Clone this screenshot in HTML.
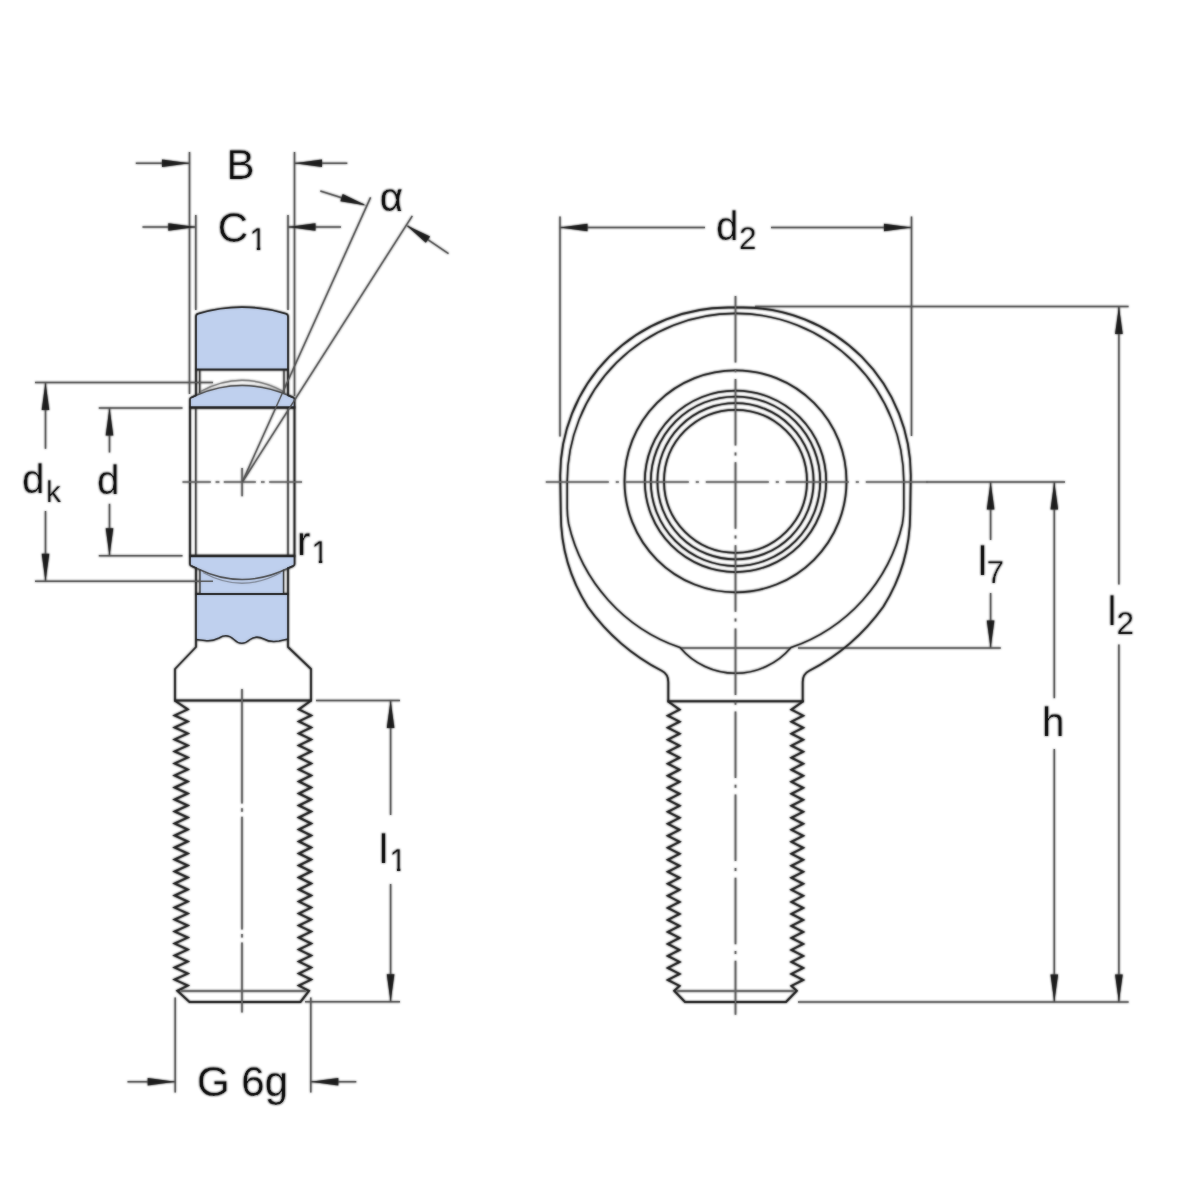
<!DOCTYPE html>
<html lang="en">
<head>
<meta charset="utf-8">
<title>Rod end with male thread - dimension drawing</title>
<style>
html,body{margin:0;padding:0;background:#fff;}
body{width:1200px;height:1200px;overflow:hidden;}
svg{display:block;}
.t{font-family:"Liberation Sans",sans-serif;fill:#0a0a0a;stroke:#fff;stroke-width:0.25px;}
.dim{stroke:#4d4d4d;stroke-width:1.5;fill:none;}
.cen{stroke:#5c5c5c;stroke-width:1.7;fill:none;}
.out{stroke:#1c1c1c;stroke-width:1.9;fill:none;}
.outn{stroke:#1c1c1c;stroke-width:1.8;fill:none;stroke-linejoin:round;}
.wav{stroke:#1c1c1c;stroke-width:1.5;fill:none;stroke-linejoin:round;}
.heavy{stroke:#1c1c1c;stroke-width:2.6;fill:none;}
.thin{stroke:#2e2e2e;stroke-width:1.4;fill:none;}
.thn2{stroke:#1c1c1c;stroke-width:1.55;fill:none;}
.circ{stroke:#1c1c1c;stroke-width:1.75;fill:none;}
.thr{stroke:#1c1c1c;stroke-width:2;fill:none;stroke-linejoin:miter;}
.thin2{stroke:#666;stroke-width:1.8;fill:none;}
.fill{fill:#bfd0ee;stroke:none;}
.arc{stroke:#777;stroke-width:1.4;fill:none;}
.arcd{stroke:#444;stroke-width:1.5;fill:none;stroke-linejoin:round;}
.arc2{stroke:#7d8594;stroke-width:1.4;fill:none;}
.ah{fill:#1c1c1c;stroke:none;}
</style>
</head>
<body>
<svg width="1200" height="1200" viewBox="0 0 1200 1200">
<defs><filter id="soft" x="0" y="0" width="1200" height="1200" filterUnits="userSpaceOnUse" color-interpolation-filters="sRGB"><feGaussianBlur stdDeviation="0.8"/></filter></defs>
<rect width="1200" height="1200" fill="#ffffff"/>
<use href="#art" filter="url(#soft)"/>
<g opacity="0.7">
<g id="art">
<!-- left view: fills -->
<path class="fill" d="M196,369.5 L196,316.5 Q196,314.2 198.5,313.6 Q242,300.6 285.5,313.6 Q288,314.2 288,316.5 L288,369.5 Z"/>
<rect class="fill" x="200" y="564" width="83.5" height="31"/>
<path class="fill" d="M196,594 L288,594 L288,639 L279,641 Q270,642.5 264,639 Q256,635 250,639.5 Q241.5,647 234,639.5 Q227,633 219,638 Q212,641.5 205,640.5 L196,639.5 Z"/>
<path class="fill" d="M190,407.5 L190,399.5 Q190,398 191.5,397.5 L197,395 Q242,376 287.5,395 L293,397.5 Q294.5,398 294.5,399.5 L294.5,407.5 Z"/>
<path class="fill" d="M190,556 L190,564 Q190,565.5 191.5,566 L197,568.5 Q242,590.5 287.5,568.5 L293,566 Q294.5,565.5 294.5,564 L294.5,556 Z"/>
<!-- left view: thin lines -->
<path class="arc" d="M200.5,391.5 Q242,369 283.5,391.5"/>
<path class="arcd" d="M191.5,397.5 L197,395 Q242,376 287.5,395 L293,397.5"/>
<path class="arcd" d="M191.5,566 L197,568.5 Q242,590.5 287.5,568.5 L293,566"/>
<path class="arc2" d="M203,572.5 Q242,594 281,572.5"/>
<line class="thin" x1="199.7" y1="370" x2="199.7" y2="393"/>
<line class="thin" x1="284" y1="370" x2="284" y2="393"/>
<line class="thin" x1="200" y1="569.5" x2="200" y2="594"/>
<line class="thin" x1="283.5" y1="569.5" x2="283.5" y2="594"/>
<line class="thin" x1="195.8" y1="408" x2="195.8" y2="556"/>
<line class="thin" x1="288" y1="408" x2="288" y2="556"/>
<!-- left view: outlines -->
<path class="outn" d="M196,395.5 L196,316.5 Q196,314.2 198.5,313.6 Q242,300.6 285.5,313.6 Q288,314.2 288,316.5 L288,395.5"/>
<line class="out" x1="195.2" y1="369.5" x2="288.8" y2="369.5"/>
<path class="outn" d="M196.5,395.2 L191,397.7 Q190,398.2 190,399.5 L190,564 Q190,565.3 191,565.8 L196.5,568.3"/>
<path class="outn" d="M287.5,395.2 L293.5,397.7 Q294.5,398.2 294.5,399.5 L294.5,564 Q294.5,565.3 293.5,565.8 L287.5,568.3"/>
<line class="heavy" x1="189.2" y1="407.5" x2="295.3" y2="407.5"/>
<line class="heavy" x1="189.2" y1="556" x2="295.3" y2="556"/>
<path class="outn" d="M196,567.5 L196,647 L175,669 L175,700.5 M288,567.5 L288,647 L311,669 L311,700.5"/>
<line class="out" x1="195.2" y1="594" x2="288.8" y2="594"/>
<path class="wav" d="M196,639.5 L205,640.5 Q212,641.5 219,638 Q227,633 234,639.5 Q241.5,647 250,639.5 Q256,635 264,639 Q270,642.5 279,641 L288,639"/>
<line class="out" x1="174.2" y1="700.5" x2="311.8" y2="700.5"/>
<polyline class="thr" points="174.6,700.5 187.8,709.4 174.6,715.4 187.8,721.4 174.6,727.4 187.8,733.4 174.6,739.4 187.8,745.4 174.6,751.4 187.8,757.4 174.6,763.4 187.8,769.4 174.6,775.4 187.8,781.5 174.6,787.5 187.8,793.5 174.6,799.5 187.8,805.5 174.6,811.5 187.8,817.5 174.6,823.5 187.8,829.5 174.6,835.5 187.8,841.5 174.6,847.5 187.8,853.5 174.6,859.5 187.8,865.5 174.6,871.5 187.8,877.5 174.6,883.5 187.8,889.5 174.6,895.5 187.8,901.6 174.6,907.6 187.8,913.6 174.6,919.6 187.8,925.6 174.6,931.6 187.8,937.6 174.6,943.6 187.8,949.6 174.6,955.6 187.8,961.6 174.6,967.6 187.8,973.6 174.6,979.6 187.8,985.6 177.3,990.8 189.5,1001.9 300.5,1001.9 309.0,990.8 298.8,985.6 311.2,979.6 298.8,973.6 311.2,967.6 298.8,961.6 311.2,955.6 298.8,949.6 311.2,943.6 298.8,937.6 311.2,931.6 298.8,925.6 311.2,919.6 298.8,913.6 311.2,907.6 298.8,901.6 311.2,895.5 298.8,889.5 311.2,883.5 298.8,877.5 311.2,871.5 298.8,865.5 311.2,859.5 298.8,853.5 311.2,847.5 298.8,841.5 311.2,835.5 298.8,829.5 311.2,823.5 298.8,817.5 311.2,811.5 298.8,805.5 311.2,799.5 298.8,793.5 311.2,787.5 298.8,781.5 311.2,775.4 298.8,769.4 311.2,763.4 298.8,757.4 311.2,751.4 298.8,745.4 311.2,739.4 298.8,733.4 311.2,727.4 298.8,721.4 311.2,715.4 298.8,709.4 311.2,700.5"/>
<line class="thin2" x1="180" y1="991" x2="306" y2="991"/>
<!-- left view: centre lines -->
<path class="cen" d="M182.5,482 H210.8 M215.6,482 H219.4 M223.8,482 H255.8 M261,482 H264.6 M269.2,482 H302"/>
<line class="cen" x1="242.1" y1="468" x2="242.1" y2="496.2"/>
<path class="cen" d="M242,689 V803.5 M242,808.3 V811.7 M242,816.7 V929.5 M242,934 V937.5 M242,942.5 V1012.5"/>
<!-- left view: dimensions -->
<line class="dim" x1="189.5" y1="152" x2="189.5" y2="394"/>
<line class="dim" x1="294.5" y1="152" x2="294.5" y2="396"/>
<line class="dim" x1="195.8" y1="215" x2="195.8" y2="310"/>
<line class="dim" x1="288" y1="215" x2="288" y2="310"/>
<line class="dim" x1="135.8" y1="163.2" x2="189.5" y2="163.2"/>
<polygon class="ah" points="189.50,163.20 162.00,167.00 162.00,159.40"/>
<line class="dim" x1="294.5" y1="163.2" x2="347.3" y2="163.2"/>
<polygon class="ah" points="294.50,163.20 322.00,159.40 322.00,167.00"/>
<line class="dim" x1="142.5" y1="227" x2="195.8" y2="227"/>
<polygon class="ah" points="195.80,227.00 168.30,230.80 168.30,223.20"/>
<line class="dim" x1="288" y1="227" x2="341" y2="227"/>
<polygon class="ah" points="288.00,227.00 315.50,223.20 315.50,230.80"/>
<line class="dim" x1="35" y1="382.6" x2="213" y2="382.6"/>
<line class="dim" x1="35" y1="581.3" x2="213" y2="581.3"/>
<line class="dim" x1="45.5" y1="383" x2="45.5" y2="448.8"/>
<line class="dim" x1="45.5" y1="511" x2="45.5" y2="581"/>
<polygon class="ah" points="45.50,382.60 49.30,410.10 41.70,410.10"/>
<polygon class="ah" points="45.50,581.30 41.70,553.80 49.30,553.80"/>
<line class="dim" x1="98.8" y1="408" x2="182.5" y2="408"/>
<line class="dim" x1="98.8" y1="555.8" x2="182.5" y2="555.8"/>
<line class="dim" x1="109.5" y1="408" x2="109.5" y2="452.5"/>
<line class="dim" x1="109.5" y1="503.8" x2="109.5" y2="555.8"/>
<polygon class="ah" points="109.50,408.00 113.30,435.50 105.70,435.50"/>
<polygon class="ah" points="109.50,555.80 105.70,528.30 113.30,528.30"/>
<line class="dim" x1="242.3" y1="482" x2="370.6" y2="197.4"/>
<line class="dim" x1="242.3" y1="482" x2="412.3" y2="215.8"/>
<line class="dim" x1="320.3" y1="191" x2="363.8" y2="204.8"/>
<polygon class="ah" points="366.30,205.60 340.37,201.36 342.67,194.12"/>
<line class="dim" x1="407.5" y1="225.8" x2="448.5" y2="253.7"/>
<polygon class="ah" points="406.30,225.30 430.06,236.52 425.85,242.85"/>
<line class="dim" x1="316" y1="700.6" x2="400" y2="700.6"/>
<line class="dim" x1="305" y1="1001.8" x2="400" y2="1001.8"/>
<line class="dim" x1="390.6" y1="700.6" x2="390.6" y2="815"/>
<line class="dim" x1="390.6" y1="884" x2="390.6" y2="1001.8"/>
<polygon class="ah" points="390.60,700.60 394.40,728.10 386.80,728.10"/>
<polygon class="ah" points="390.60,1001.80 386.80,974.30 394.40,974.30"/>
<line class="dim" x1="175.2" y1="997.5" x2="175.2" y2="1092.5"/>
<line class="dim" x1="310.8" y1="997.5" x2="310.8" y2="1092.5"/>
<line class="dim" x1="127.5" y1="1081.8" x2="175.2" y2="1081.8"/>
<polygon class="ah" points="175.20,1081.80 147.70,1085.60 147.70,1078.00"/>
<line class="dim" x1="310.8" y1="1081.8" x2="356.3" y2="1081.8"/>
<polygon class="ah" points="310.80,1081.80 338.30,1078.00 338.30,1085.60"/>
<!-- right view: dimensions -->
<line class="dim" x1="560" y1="216.5" x2="560" y2="436.5"/>
<line class="dim" x1="911.5" y1="216.5" x2="911.5" y2="436"/>
<line class="dim" x1="560" y1="227.5" x2="705" y2="227.5"/>
<line class="dim" x1="771" y1="227.5" x2="911.5" y2="227.5"/>
<polygon class="ah" points="560.00,227.50 587.50,223.70 587.50,231.30"/>
<polygon class="ah" points="911.50,227.50 884.00,231.30 884.00,223.70"/>
<line class="dim" x1="755" y1="306.6" x2="1128.6" y2="306.6"/>
<line class="dim" x1="926" y1="482" x2="1065" y2="482"/>
<line class="dim" x1="680" y1="648" x2="790.5" y2="648"/>
<line class="dim" x1="798" y1="648" x2="1000.8" y2="648"/>
<line class="dim" x1="798" y1="1002" x2="1128.6" y2="1002"/>
<line class="dim" x1="1118.9" y1="306.6" x2="1118.9" y2="584.4"/>
<line class="dim" x1="1118.9" y1="644.4" x2="1118.9" y2="1002"/>
<polygon class="ah" points="1118.90,306.60 1122.70,334.10 1115.10,334.10"/>
<polygon class="ah" points="1118.90,1002.00 1115.10,974.50 1122.70,974.50"/>
<line class="dim" x1="1054.3" y1="482" x2="1054.3" y2="698.2"/>
<line class="dim" x1="1054.3" y1="749" x2="1054.3" y2="1002"/>
<polygon class="ah" points="1054.30,482.00 1058.10,509.50 1050.50,509.50"/>
<polygon class="ah" points="1054.30,1002.00 1050.50,974.50 1058.10,974.50"/>
<line class="dim" x1="990.6" y1="482" x2="990.6" y2="540"/>
<line class="dim" x1="990.6" y1="593" x2="990.6" y2="648"/>
<polygon class="ah" points="990.60,482.00 994.40,509.50 986.80,509.50"/>
<polygon class="ah" points="990.60,648.00 986.80,620.50 994.40,620.50"/>
<!-- right view: head outline -->
<path class="outn" d="M668.3,701.3 L668.3,682 Q668.3,674.1 661.7,670.8 A210.6,210.6 0 0 1 587.7,606.7 A175.1,175.1 0 0 1 560.8,514 L560.20,475.4 A167.9,167.9 0 0 1 728.1,307.50 L742.90,307.50 A167.9,167.9 0 0 1 910.80,475.4 L910.20,514 A175.1,175.1 0 0 1 883.30,606.7 A210.6,210.6 0 0 1 809.30,670.8 Q802.70,674.1 802.70,682 L802.70,701.3"/>
<path class="thn2" d="M735.5,673.3 A72.6,72.6 0 0 1 680,647.5 A171.3,171.3 0 0 1 568.65,524 Q567.20,516 567.20,508 L567.20,481.6 A168.3,168.3 0 0 1 903.80,481.6 L903.80,508 Q903.80,516 902.35,524 A171.3,171.3 0 0 1 791.00,647.5 A72.6,72.6 0 0 1 735.5,673.3"/>
<circle class="circ" cx="735.5" cy="481.3" r="111"/>
<circle class="circ" cx="735.5" cy="481.3" r="90.7"/>
<circle class="circ" cx="735.5" cy="481.3" r="84.7"/>
<circle class="circ" cx="735.5" cy="481.3" r="78.1"/>
<circle class="circ" cx="735.5" cy="481.3" r="71.5"/>
<line class="out" x1="667.4" y1="701.3" x2="803.9" y2="701.3"/>
<polyline class="thr" points="667.8,701.3 679.6,709.7 667.8,715.7 679.6,721.7 667.8,727.7 679.6,733.7 667.8,739.7 679.6,745.7 667.8,751.7 679.6,757.7 667.8,763.7 679.6,769.7 667.8,775.8 679.6,781.8 667.8,787.8 679.6,793.8 667.8,799.8 679.6,805.8 667.8,811.8 679.6,817.8 667.8,823.8 679.6,829.8 667.8,835.8 679.6,841.8 667.8,847.8 679.6,853.8 667.8,859.8 679.6,865.8 667.8,871.8 679.6,877.8 667.8,883.8 679.6,889.8 667.8,895.8 679.6,901.9 667.8,907.9 679.6,913.9 667.8,919.9 679.6,925.9 667.8,931.9 679.6,937.9 667.8,943.9 679.6,949.9 667.8,955.9 679.6,961.9 667.8,967.9 679.6,973.9 667.8,979.9 679.6,985.9 674.2,990.8 685.0,1002.0 786.0,1002.0 796.8,990.8 791.4,985.9 803.2,979.9 791.4,973.9 803.2,967.9 791.4,961.9 803.2,955.9 791.4,949.9 803.2,943.9 791.4,937.9 803.2,931.9 791.4,925.9 803.2,919.9 791.4,913.9 803.2,907.9 791.4,901.9 803.2,895.8 791.4,889.8 803.2,883.8 791.4,877.8 803.2,871.8 791.4,865.8 803.2,859.8 791.4,853.8 803.2,847.8 791.4,841.8 803.2,835.8 791.4,829.8 803.2,823.8 791.4,817.8 803.2,811.8 791.4,805.8 803.2,799.8 791.4,793.8 803.2,787.8 791.4,781.8 803.2,775.8 791.4,769.7 803.2,763.7 791.4,757.7 803.2,751.7 791.4,745.7 803.2,739.7 791.4,733.7 803.2,727.7 791.4,721.7 803.2,715.7 791.4,709.7 803.2,701.3"/>
<line class="thin2" x1="676.5" y1="991" x2="794.5" y2="991"/>
<!-- right view: centre lines -->
<path class="cen" d="M545.8,482 H928" stroke-dasharray="63 7 3 7"/>
<path class="cen" d="M735.5,296 V1014.7" stroke-dasharray="66.5 6.8 3 6.8"/>
<!-- labels -->
<text class="t" x="226.5" y="178.5" font-size="42">B</text>
<clipPath id="sub1_1"><rect x="214.80" y="199.60" width="34.00" height="58.80"/><path d="M248.80,218.50 H280.70 V245.85 H260.15 V252.00 H256.89 V245.85 H248.80 Z"/></clipPath>
<text class="t" clip-path="url(#sub1_1)"><tspan x="217.8" y="241.6" font-size="42">C</tspan><tspan x="249.2" y="250" font-size="31.5">1</tspan></text>
<text class="t" x="379.8" y="210.6" font-size="40.5">α</text>
<text class="t"><tspan x="22" y="493" font-size="40.5">d</tspan><tspan x="46" y="501.7" font-size="30">k</tspan></text>
<text class="t" x="97" y="493.5" font-size="40.5">d</text>
<clipPath id="sub1_2"><rect x="294.00" y="514.20" width="16.80" height="56.70"/><path d="M310.80,531.50 H342.70 V558.85 H322.15 V565.00 H318.89 V558.85 H310.80 Z"/></clipPath>
<text class="t" clip-path="url(#sub1_2)"><tspan x="297" y="554.7" font-size="40.5">r</tspan><tspan x="311.2" y="563" font-size="31.5">1</tspan></text>
<clipPath id="sub1_3"><rect x="376.00" y="822.50" width="12.90" height="56.70"/><path d="M388.90,839.90 H420.80 V867.25 H400.25 V873.40 H396.99 V867.25 H388.90 Z"/></clipPath>
<text class="t" clip-path="url(#sub1_3)"><tspan x="379" y="863" font-size="40.5">l</tspan><tspan x="389.3" y="871.4" font-size="31.5">1</tspan></text>
<text class="t" x="197" y="1096.4" font-size="42">G 6g</text>
<text class="t"><tspan x="716" y="239.5" font-size="40.5">d</tspan><tspan x="739" y="248.5" font-size="31.5">2</tspan></text>
<text class="t"><tspan x="978" y="574.7" font-size="40.5">l</tspan><tspan x="986.5" y="582.9" font-size="31.5">7</tspan></text>
<text class="t" x="1042" y="736" font-size="40.5">h</text>
<text class="t"><tspan x="1107.6" y="625" font-size="40.5">l</tspan><tspan x="1116.5" y="633.6" font-size="31.5">2</tspan></text>
</g>
</g>
</svg>
</body>
</html>
